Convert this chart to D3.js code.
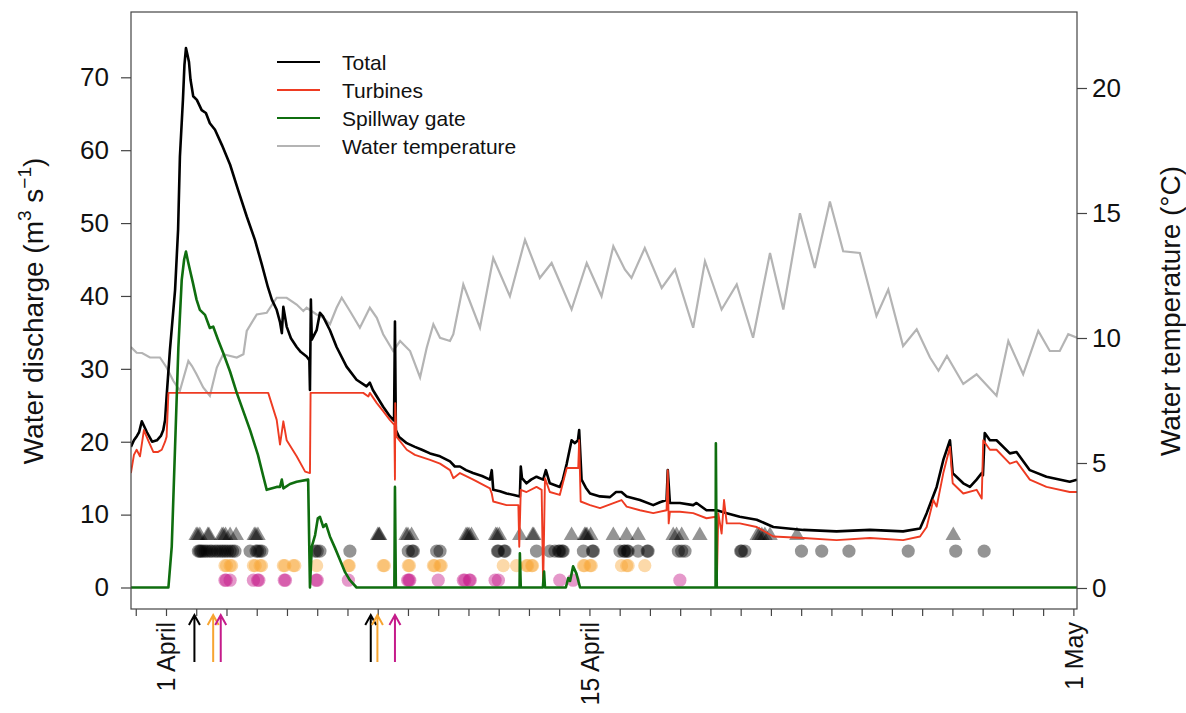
<!DOCTYPE html>
<html>
<head>
<meta charset="utf-8">
<script src="https://cdn.jsdelivr.net/npm/d3@7"></script>
<style>
  body { margin: 0; background: #fff; }
  text { font-family: "Liberation Sans", Arial, sans-serif; fill: #111; }
</style>
</head>
<body>
<svg id="chart" width="1186" height="713"></svg>
<script>
// x values are days since 1 April 00:00, discharge in m3/s, temperature in deg C
const total = [
  [-1.16, 19.3], [-1.06, 20.2], [-0.96, 20.8], [-0.89, 21.3], [-0.80, 22.8], [-0.73, 22.2],
  [-0.63, 21.3], [-0.46, 20.0], [-0.30, 20.2], [-0.17, 20.8], [-0.09, 21.6], [-0.03, 23.0],
  [0.02, 26.2], [0.13, 32.6], [0.30, 40.8], [0.40, 49.1], [0.46, 59.1], [0.56, 66.9],
  [0.61, 71.7], [0.66, 74.0], [0.71, 73.1], [0.76, 72.1], [0.81, 69.7], [0.90, 67.4],
  [1.02, 66.9], [1.18, 65.5], [1.32, 65.1], [1.45, 63.7], [1.62, 62.8], [1.85, 60.7],
  [2.12, 58.0], [2.38, 54.6], [2.67, 50.9], [2.94, 47.7], [3.17, 44.3], [3.37, 41.2],
  [3.50, 39.5], [3.66, 38.1], [3.77, 36.4], [3.83, 34.9], [3.88, 38.5], [3.99, 35.8],
  [4.13, 34.2], [4.32, 33.0], [4.46, 32.3], [4.65, 31.7], [4.74, 31.2], [4.76, 27.1],
  [4.79, 39.5], [4.82, 34.0], [4.98, 35.3], [5.09, 37.7], [5.19, 37.2], [5.42, 35.3],
  [5.64, 33.0], [5.97, 30.3], [6.30, 28.5], [6.63, 27.6], [6.74, 28.1], [6.84, 27.1],
  [7.18, 24.8], [7.40, 23.5], [7.54, 22.9], [7.57, 36.5], [7.60, 21.6], [7.70, 20.7],
  [7.96, 19.8], [8.23, 19.3], [8.46, 18.9], [8.73, 18.4], [9.06, 18.0], [9.39, 17.3],
  [9.55, 16.6], [9.72, 16.6], [9.92, 16.1], [10.15, 15.7], [10.45, 15.3], [10.71, 14.8],
  [10.77, 16.1], [10.82, 13.4], [11.04, 13.2], [11.26, 12.9], [11.50, 12.7], [11.70, 12.5],
  [11.73, 16.6], [11.77, 15.0], [11.92, 14.3], [12.07, 14.8], [12.25, 15.2], [12.47, 14.8],
  [12.56, 16.1], [12.69, 14.3], [13.02, 13.8], [13.12, 14.8], [13.25, 17.0], [13.41, 20.2],
  [13.52, 19.8], [13.62, 20.2], [13.66, 21.6], [13.74, 14.8], [13.88, 13.7], [14.02, 12.9],
  [14.35, 12.5], [14.68, 12.4], [14.88, 13.1], [15.06, 13.1], [15.23, 12.5], [15.67, 12.0],
  [16.11, 11.3], [16.33, 11.7], [16.55, 12.0], [16.59, 16.1], [16.66, 11.6], [16.99, 11.6],
  [17.43, 11.3], [17.54, 11.6], [17.87, 10.6], [18.21, 10.6], [18.54, 10.2], [18.97, 9.7],
  [19.53, 9.3], [20.08, 8.3], [21.07, 7.9], [22.17, 7.7], [23.27, 7.9], [24.37, 7.7],
  [24.93, 8.1], [25.15, 10.2], [25.48, 13.8], [25.70, 17.5], [25.92, 20.2], [26.01, 15.7],
  [26.36, 14.3], [26.58, 13.8], [26.80, 14.8], [26.97, 15.7], [27.01, 15.4], [27.07, 21.2],
  [27.24, 20.2], [27.46, 20.2], [27.90, 18.4], [28.12, 18.6], [28.56, 16.1], [29.11, 15.2],
  [29.88, 14.5], [30.12, 14.8]
];

const turbines = [
  [-1.16, 15.7], [-1.06, 18.2], [-0.97, 18.9], [-0.86, 18.0], [-0.73, 21.6], [-0.59, 20.2],
  [-0.42, 18.6], [-0.26, 18.6], [-0.14, 18.9], [-0.03, 20.0], [0.02, 20.7], [0.08, 26.7],
  [3.38, 26.7], [3.66, 23.0], [3.77, 19.6], [3.88, 22.8], [3.99, 20.2], [4.32, 18.0],
  [4.60, 15.9], [4.76, 15.7], [4.78, 26.7], [6.52, 26.7], [6.69, 26.2], [6.74, 26.7],
  [6.97, 25.3], [7.18, 24.2], [7.40, 23.0], [7.55, 22.3], [7.57, 14.8], [7.58, 25.3],
  [7.62, 20.7], [7.96, 18.9], [8.23, 18.2], [8.73, 17.5], [9.06, 17.0], [9.39, 16.1],
  [9.50, 15.0], [9.72, 15.7], [10.16, 14.8], [10.71, 13.6], [10.77, 12.9], [10.82, 11.8],
  [11.26, 11.3], [11.65, 11.3], [11.68, 5.6], [11.73, 13.4], [11.92, 13.1], [12.25, 13.8],
  [12.42, 13.4], [12.47, 0.1], [12.53, 15.0], [12.69, 13.1], [13.02, 12.7], [13.25, 16.4],
  [13.63, 16.4], [13.66, 20.2], [13.71, 11.8], [14.02, 11.3], [14.35, 10.9], [15.06, 12.0],
  [15.23, 11.1], [15.67, 10.6], [16.11, 10.2], [16.55, 10.6], [16.59, 16.1], [16.62, 8.8],
  [16.66, 10.4], [16.99, 10.4], [17.43, 10.2], [17.87, 9.5], [18.18, 9.7], [18.21, 0.1],
  [18.26, 10.2], [18.37, 7.4], [18.45, 12.0], [18.54, 8.8], [18.97, 8.8], [19.53, 8.3],
  [20.08, 7.0], [21.07, 6.8], [22.17, 6.5], [23.27, 6.8], [24.37, 6.5], [24.93, 7.0],
  [25.15, 8.3], [25.37, 12.0], [25.48, 11.1], [25.70, 15.7], [25.92, 19.3], [26.01, 14.3],
  [26.36, 12.9], [26.80, 13.4], [26.97, 12.2], [27.02, 20.2], [27.24, 18.9], [27.46, 18.9],
  [27.90, 17.0], [28.12, 17.3], [28.56, 14.8], [29.11, 13.8], [29.88, 13.1], [30.12, 13.1]
];

const spillway = [
  [-1.16, 0], [0.08, 0], [0.19, 5.6], [0.30, 19.3], [0.41, 33.0], [0.52, 42.2], [0.60, 45.0],
  [0.66, 46.1], [0.73, 44.7], [0.79, 43.6], [0.89, 41.8], [1.01, 39.5], [1.12, 38.1],
  [1.29, 37.4], [1.45, 35.6], [1.56, 35.8], [1.72, 34.0], [1.89, 32.2], [2.12, 29.6],
  [2.34, 26.7], [2.78, 21.6], [3.04, 18.2], [3.22, 15.2], [3.33, 13.4], [3.66, 13.8],
  [3.77, 13.8], [3.83, 14.8], [3.88, 13.6], [4.10, 14.2], [4.32, 14.5], [4.70, 14.8],
  [4.76, 0], [4.82, 5.6], [4.93, 7.2], [5.02, 9.5], [5.09, 9.7], [5.20, 8.3], [5.29, 8.7],
  [5.42, 7.0], [5.59, 5.4], [5.75, 3.8], [5.92, 2.1], [6.08, 1.0], [6.30, 0], [7.55, 0],
  [7.57, 13.8], [7.60, 0], [11.69, 0], [11.70, 4.7], [11.73, 0], [12.46, 0], [12.50, 2.2],
  [12.53, 0], [13.22, 0], [13.30, 1.3], [13.36, 0.9], [13.46, 2.9], [13.57, 1.9], [13.69, 0],
  [18.17, 0], [18.18, 19.8], [18.21, 0], [30.12, 0]
];

const temperature = [
  [-1.16, 9.64], [-0.97, 9.41], [-0.79, 9.40], [-0.53, 9.22], [-0.20, 9.22], [0.02, 8.82],
  [0.24, 8.29], [0.46, 7.89], [0.60, 8.49], [0.74, 9.08], [0.86, 8.88], [1.01, 8.55],
  [1.23, 8.02], [1.45, 7.69], [1.68, 8.82], [1.89, 9.35], [2.34, 9.22], [2.56, 9.35],
  [2.67, 10.28], [3.00, 10.94], [3.33, 11.01], [3.66, 11.61], [3.99, 11.61], [4.32, 11.34],
  [4.54, 11.08], [4.65, 11.21], [4.98, 10.94], [5.20, 10.81], [5.42, 10.55], [5.64, 11.21],
  [5.81, 11.61], [6.08, 11.08], [6.41, 10.41], [6.74, 11.21], [6.97, 10.81], [7.18, 10.15],
  [7.51, 9.48], [7.74, 9.88], [8.07, 9.48], [8.40, 8.42], [8.62, 9.61], [8.84, 10.55],
  [9.06, 10.01], [9.39, 9.88], [9.50, 10.15], [9.83, 12.14], [10.38, 10.41], [10.82, 13.20],
  [11.37, 11.67], [11.87, 13.93], [12.36, 12.40], [12.75, 13.00], [13.41, 11.14],
  [13.91, 13.00], [14.40, 11.67], [14.79, 13.67], [15.17, 12.74], [15.39, 12.40],
  [15.83, 13.60], [16.39, 12.00], [16.83, 12.74], [17.43, 10.41], [17.82, 13.07],
  [18.37, 11.14], [18.87, 12.14], [19.41, 10.01], [19.97, 13.40], [20.41, 11.14],
  [20.96, 14.99], [21.45, 12.80], [21.95, 15.46], [22.39, 13.47], [22.94, 13.40],
  [23.49, 10.88], [23.88, 11.94], [24.37, 9.68], [24.82, 10.35], [25.26, 9.22], [25.54, 8.69],
  [25.82, 9.28], [26.36, 8.16], [26.80, 8.55], [27.46, 7.69], [27.85, 9.88], [28.34, 8.55],
  [28.84, 10.28], [29.22, 9.48], [29.55, 9.48], [29.83, 10.15], [30.12, 10.01]
];

// detection days of tagged fish, drawn in four rows
const triangleDays = [1.0, 1.05, 1.12, 1.38, 1.42, 1.85, 1.9, 1.97, 2.12, 2.32, 2.92, 2.97, 3.04,
  7.0, 7.04, 7.06, 7.94, 8.0, 8.12, 9.92, 9.97, 10.02, 10.1, 10.9, 10.95, 11.02, 11.7, 12.12,
  12.16, 13.41, 13.84, 13.88, 13.92, 14.04, 14.79, 15.23, 15.61, 16.77, 16.88, 17.05, 17.65,
  19.55, 19.62, 19.7, 19.8, 19.97, 20.86, 26.03];
const blackDotDays = [1.07, 1.12, 1.16, 1.22, 1.29, 1.36, 1.45, 1.52, 1.62, 1.7, 1.79, 1.87, 1.95,
  2.03, 2.12, 2.2, 2.28, 2.78, 2.98, 3.03, 3.1, 3.17, 4.93, 5.0, 5.09, 6.08, 8.01, 8.14, 8.18,
  8.95, 9.06, 10.96, 10.99, 11.18, 11.21, 12.25, 12.69, 12.86, 12.98, 13.02, 13.1, 13.13, 13.8,
  14.1, 14.13, 15.01, 15.14, 15.17, 15.25, 15.28, 15.61, 15.91, 15.94, 16.94, 17.05, 17.16,
  19.0, 19.03, 19.14, 21.01, 21.68, 22.58, 24.54, 26.11, 27.05];
const orangeDotDays = [1.95, 2.0, 2.12, 2.17, 2.89, 2.95, 3.11, 3.16, 3.88, 3.93, 4.21, 4.26, 4.98,
  6.03, 6.06, 7.18, 7.22, 8.01, 8.05, 8.84, 8.88, 9.06, 9.1, 11.15, 11.59, 11.92, 11.96, 12.09,
  12.12, 13.8, 13.84, 14.02, 14.06, 15.06, 15.23, 15.28, 15.83];
const magentaDotDays = [1.95, 1.99, 2.12, 2.89, 3.03, 3.07, 3.91, 3.95, 4.96, 5.0, 6.03, 7.99,
  8.03, 8.06, 9.0, 9.83, 9.88, 10.03, 10.06, 10.88, 10.99, 13.02, 13.46, 16.99];
const rowLevels = { triangle: 7, black: 5, orange: 3, magenta: 1 };

// release dates marked by arrows under the axis
const arrowDays = { black: [0.94, 6.77], orange: [1.56, 6.99], magenta: [1.81, 7.57] };

const dayTicks = d3.range(-1, 31);
const dayLabels = { 0: "1 April", 14: "15 April", 30: "1 May" };
const dischargeTicks = [0, 10, 20, 30, 40, 50, 60, 70];
const tempTicks = [0, 5, 10, 15, 20];
const legendItems = ["Total", "Turbines", "Spillway gate", "Water temperature"];

const colors = {
  total: "#000000", turbines: "#ee3b22", spillway: "#0f6e0f", temp: "#b4b4b4",
  orange: "#f7a531", magenta: "#c51b8a"
};

const box = { left: 131, right: 1077, top: 12, bottom: 609 };
const svg = d3.select("#chart");

const x = d3.scaleLinear().domain([-1.157, 30.12]).range([box.left, box.right]);
const yQ = d3.scaleLinear().domain([-2.95, 78.96]).range([box.bottom, box.top]);
const yT = d3.scaleLinear().domain([-0.84, 23.04]).range([box.bottom, box.top]);

svg.append("rect").attr("width", 1186).attr("height", 713).attr("fill", "#fff");

svg.append("clipPath").attr("id", "plot")
  .append("rect")
  .attr("x", box.left).attr("y", box.top)
  .attr("width", box.right - box.left).attr("height", box.bottom - box.top);

const plot = svg.append("g").attr("clip-path", "url(#plot)");

// markers under the lines
const tri = d3.symbol().type(d3.symbolTriangle).size(105);
plot.append("g").selectAll("path").data(triangleDays).join("path")
  .attr("d", tri)
  .attr("transform", d => `translate(${x(d)},${yQ(rowLevels.triangle) - 1})`)
  .attr("fill", "rgba(0,0,0,0.42)");

function dots(days, level, fill) {
  plot.append("g").selectAll("circle").data(days).join("circle")
    .attr("cx", d => x(d)).attr("cy", yQ(level)).attr("r", 6.6)
    .attr("fill", fill);
}
dots(blackDotDays, rowLevels.black, "rgba(0,0,0,0.42)");
dots(orangeDotDays, rowLevels.orange, "rgba(247,165,49,0.42)");
dots(magentaDotDays, rowLevels.magenta, "rgba(197,27,138,0.45)");

const lineQ = d3.line().x(d => x(d[0])).y(d => yQ(d[1]));
const lineT = d3.line().x(d => x(d[0])).y(d => yT(d[1]));

plot.append("path").datum(temperature).attr("d", lineT)
  .attr("fill", "none").attr("stroke", colors.temp).attr("stroke-width", 2.2);
plot.append("path").datum(total).attr("d", lineQ)
  .attr("fill", "none").attr("stroke", colors.total).attr("stroke-width", 2.6)
  .attr("stroke-linejoin", "round");
plot.append("path").datum(turbines).attr("d", lineQ)
  .attr("fill", "none").attr("stroke", colors.turbines).attr("stroke-width", 1.9)
  .attr("stroke-linejoin", "round");
plot.append("path").datum(spillway).attr("d", lineQ)
  .attr("fill", "none").attr("stroke", colors.spillway).attr("stroke-width", 2.6)
  .attr("stroke-linejoin", "round");

// frame
svg.append("rect")
  .attr("x", box.left).attr("y", box.top)
  .attr("width", box.right - box.left).attr("height", box.bottom - box.top)
  .attr("fill", "none").attr("stroke", "#444").attr("stroke-width", 1.2);

// axes
const axisLeft = svg.append("g").attr("transform", `translate(${box.left},0)`)
  .call(d3.axisLeft(yQ).tickValues(dischargeTicks).tickSize(10).tickPadding(12));
const axisRight = svg.append("g").attr("transform", `translate(${box.right},0)`)
  .call(d3.axisRight(yT).tickValues(tempTicks).tickSize(10).tickPadding(5));
const axisBottom = svg.append("g").attr("transform", `translate(0,${box.bottom})`)
  .call(d3.axisBottom(x).tickValues(dayTicks).tickSize(7).tickFormat(d => dayLabels[d] || ""));

[axisLeft, axisRight, axisBottom].forEach(g => {
  g.select(".domain").remove();
  g.selectAll(".tick line").attr("stroke", "#444").attr("stroke-width", 1.2);
  g.selectAll("text").attr("font-size", 26).attr("fill", "#111")
    .attr("font-family", '"Liberation Sans", Arial, sans-serif');
});
axisBottom.selectAll(".tick text")
  .attr("font-size", 25)
  .attr("transform", "rotate(-90)")
  .attr("text-anchor", "end")
  .attr("x", -13).attr("y", 0).attr("dy", "0.36em");

// axis titles
const leftTitle = svg.append("text")
  .attr("transform", "translate(43,311) rotate(-90)")
  .attr("text-anchor", "middle").attr("font-size", 28);
leftTitle.append("tspan").text("Water discharge (m");
leftTitle.append("tspan").attr("dy", -12).attr("font-size", 19).text("3");
leftTitle.append("tspan").attr("dy", 12).text(" s");
leftTitle.append("tspan").attr("dy", -12).attr("font-size", 19).text("\u22121");
leftTitle.append("tspan").attr("dy", 12).text(")");

svg.append("text")
  .attr("transform", "translate(1180,311) rotate(-90)")
  .attr("text-anchor", "middle").attr("font-size", 28)
  .text("Water temperature (\u00b0C)");

// arrows
Object.entries(arrowDays).forEach(([key, days]) => {
  const col = key === "black" ? "#000" : colors[key];
  svg.append("g").selectAll("path").data(days).join("path")
    .attr("d", d => {
      const px = x(d);
      return `M${px},662 L${px},615 M${px - 5.5},625 L${px},615 L${px + 5.5},625`;
    })
    .attr("fill", "none").attr("stroke", col).attr("stroke-width", 2);
});

// legend
const legendColors = [colors.total, colors.turbines, colors.spillway, colors.temp];
const legend = svg.append("g").attr("transform", "translate(277,62)");
legendItems.forEach((name, i) => {
  legend.append("line")
    .attr("x1", 0).attr("x2", 43).attr("y1", i * 28).attr("y2", i * 28)
    .attr("stroke", legendColors[i]).attr("stroke-width", 2.2);
  legend.append("text")
    .attr("x", 65).attr("y", i * 28).attr("dy", "0.36em")
    .attr("font-size", 21).text(name);
});
</script>
</body>
</html>
